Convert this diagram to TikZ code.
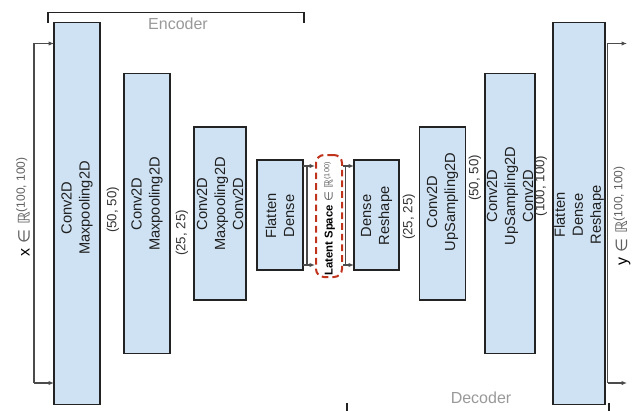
\documentclass[tikz,border=0pt]{standalone}
\usepackage{fontspec}
\setmainfont{Liberation Sans}
\newfontfamily\symfam{DejaVu Sans}
\usetikzlibrary{arrows.meta}

\definecolor{boxfill}{RGB}{207,226,243}
\definecolor{boxline}{RGB}{35,35,35}
\definecolor{wirecol}{RGB}{75,75,75}
\definecolor{dimtext}{RGB}{153,153,153}
\definecolor{latentred}{RGB}{192,52,28}
\definecolor{mathgray}{RGB}{95,95,95}

% superscript shape of a tensor
\newcommand{\shapesup}[2]{\raisebox{0.55ex}{\fontsize{#1}{#1}\selectfont\color{mathgray}#2}}

\begin{document}
\begin{tikzpicture}[x=0.75pt,y=-0.75pt,
  netbox/.style={draw=boxline, fill=boxfill, line width=0.8pt, inner sep=0pt, outer sep=0pt},
  boxtext/.style={rotate=90, align=center, font=\fontsize{11}{13.5}\selectfont, text=black!88, inner sep=0pt},
  dimlbl/.style={rotate=90, font=\fontsize{10}{12}\selectfont, text=black!80, inner sep=0pt},
  sectlbl/.style={font=\fontsize{12}{14}\selectfont, text=dimtext, inner sep=0pt},
  wire/.style={draw=wirecol, line width=0.8pt},
  arr/.style={wire, -{Latex[length=4pt,width=3.2pt]}},
  bracket/.style={draw=boxline, line width=0.8pt}
]
\useasboundingbox (0,0) rectangle (634,410);

% ---- encoder layers ----
\node[netbox, minimum width=34.5pt, minimum height=286.5pt] (b1) at (77,213.5) {};
\node[netbox, minimum width=34.5pt, minimum height=210pt]   (b2) at (147,213.5) {};
\node[netbox, minimum width=39pt,   minimum height=129.75pt] (b3) at (220,213.5) {};
\node[netbox, minimum width=34.5pt, minimum height=82.5pt]  (b4) at (280,215) {};

% ---- latent space ----
\node[draw=latentred, line width=1.5pt, dash pattern=on 5pt off 3pt, rounded corners=6pt,
      minimum width=19.5pt, minimum height=91.5pt, inner sep=0pt] (lat) at (329,216) {};

% ---- decoder layers ----
\node[netbox, minimum width=33.75pt, minimum height=82.5pt]  (b5) at (376.5,215) {};
\node[netbox, minimum width=34.5pt,  minimum height=129.75pt] (b6) at (442.5,213.5) {};
\node[netbox, minimum width=37.5pt,  minimum height=210pt]   (b7) at (510,213.5) {};
\node[netbox, minimum width=39pt,    minimum height=286.5pt] (b8) at (579,213.5) {};

% ---- layer captions ----
\node[boxtext] (t1) at (77,208) {Conv2D\\Maxpooling2D};
\node[boxtext] (t2) at (147,204) {Conv2D\\Maxpooling2D};
\node[boxtext] (t3) at (220,204) {Conv2D\\Maxpooling2D\\Conv2D};
\node[boxtext] (t4) at (280,216) {Flatten\\Dense};
\node[boxtext] (t5) at (376.5,216) {Dense\\Reshape};
\node[boxtext] (t6) at (442.5,202) {Conv2D\\UpSampling2D};
\node[boxtext] (t7) at (510,196) {Conv2D\\UpSampling2D\\Conv2D};
\node[boxtext] (t8) at (579,215) {Flatten\\Dense\\Reshape};

% ---- intermediate shapes ----
\node[dimlbl] (d1) at (113,210) {(50, 50)};
\node[dimlbl] (d2) at (182,233) {(25, 25)};
\node[dimlbl] (d3) at (409,217) {(25, 25)};
\node[dimlbl] (d4) at (475,178) {(50, 50)};
\node[dimlbl] (d5) at (541,186) {(100, 100)};

% ---- latent caption ----
\node[rotate=90, inner sep=0pt, font=\fontsize{8.5}{10}\selectfont] (lt) at (329.5,219)
  {\textbf{Latent Space} {\color{mathgray}\symfam ∈ ℝ}\shapesup{5.5}{(100)}};

% ---- input / output labels ----
\node[rotate=90, inner sep=0pt, font=\fontsize{12}{14}\selectfont] (xl) at (23,207)
  {x {\color{mathgray}\symfam ∈ ℝ}\shapesup{9}{(100, 100)}};
\node[rotate=90, inner sep=0pt, font=\fontsize{12}{14}\selectfont] (yl) at (622,216)
  {y {\color{mathgray}\symfam ∈ ℝ}\shapesup{9}{(100, 100)}};

% ---- input connector ----
\coordinate (xa) at (34,43.5);
\coordinate (xb) at (34,383);
\draw[wire] (xa) -- (xb);
\draw[arr] (xa) -- (xa -| b1.west);
\draw[arr] (xb) -- (xb -| b1.west);

% ---- output connector ----
\coordinate (ya) at (607.5,43.5);
\coordinate (yb) at (607.5,383);
\coordinate (yaend) at (627,43.5);
\coordinate (ybend) at (627,383);
\draw[wire] (ya) -- (yb);
\draw[arr] (ya) -- (yaend);
\draw[arr] (yb) -- (ybend);

% ---- into and out of the latent space ----
\coordinate (la) at (307,166);
\coordinate (lb) at (307,265);
\draw[wire] (b4.east |- la) -- (la) -- (lb) -- (b4.east |- lb);
\draw[arr] (la) -- (la -| lat.west);
\draw[arr] (lb) -- (lb -| lat.west);

\coordinate (ra) at (345.5,166);
\coordinate (rb) at (345.5,265);
\draw[wire] (lat.east |- ra) -- (ra) -- (rb) -- (lat.east |- rb);
\draw[arr] (ra) -- (ra -| b5.west);
\draw[arr] (rb) -- (rb -| b5.west);

% ---- encoder / decoder brackets ----
\draw[bracket] (48,23) -- (48,12.5) -- (304,12.5) -- (304,23);
\node[sectlbl] (enc) at (178,24) {Encoder};
\draw[bracket] (347,403) -- (347,414) -- (609,414) -- (609,403);
\node[sectlbl] (dec) at (481,398) {Decoder};
\end{tikzpicture}
\end{document}
